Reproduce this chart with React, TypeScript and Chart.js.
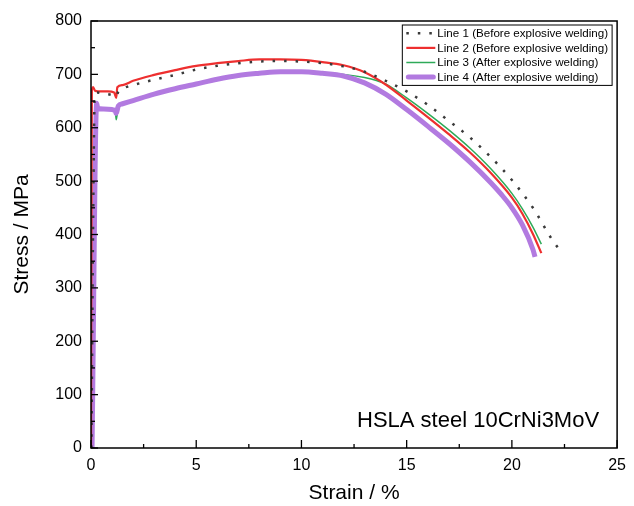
import React, { useEffect, useRef } from "react";
import { Chart, registerables } from "chart.js";

Chart.register(...registerables);

const FONT = "'Liberation Sans', Arial, sans-serif";

const labels = [
  "Line 1 (Before explosive welding)",
  "Line 2 (Before explosive welding)",
  "Line 3 (After explosive welding)",
  "Line 4 (After explosive welding)",
];

const strain1 = [0.02, 0.1, 0.18, 0.3, 0.6, 1.0, 1.2, 1.3, 1.6, 2, 3, 4, 5, 6, 7, 8, 9, 10, 11, 12, 13, 14, 15, 16, 17, 18, 19, 20, 21, 22, 22.2];
const stress1 = [0, 420, 662, 666, 664, 661, 658, 668, 675, 680, 690, 699, 709, 716, 721, 724, 725, 724, 721, 715, 705, 688, 668, 643, 613, 582, 545, 502, 450, 385, 375];

const strain2 = [0, 0.04, 0.1, 0.2, 0.5, 0.8, 1.1, 1.2, 1.25, 1.5, 2, 3, 4, 5, 6, 7, 8, 9, 10, 11, 12, 13, 14, 15, 16, 17, 18, 19, 20, 20.5, 21, 21.4];
const stress2 = [0, 670, 676, 669, 668, 668, 666, 656, 676, 680, 688, 699, 708, 716, 721, 725, 728, 728, 727, 723, 717, 704, 681, 651, 620, 588, 554, 515, 469, 439, 401, 365];

const strain3 = [0.05, 0.27, 0.32, 0.6, 1.0, 1.15, 1.2, 1.3, 1.5, 2, 3, 4, 5, 6, 7, 8, 9, 10, 11, 12, 13, 13.6, 14, 15, 16, 17, 18, 19, 20, 20.5, 21, 21.4];
const stress3 = [0, 643, 636, 635, 634, 632, 615, 640, 645, 651, 663, 673, 682, 691, 698, 702, 705, 705, 703, 700, 694, 688, 682, 656, 627, 596, 562, 523, 477, 448, 414, 382];

const strain4 = [0.05, 0.27, 0.32, 0.6, 1.0, 1.15, 1.2, 1.3, 1.5, 2, 3, 4, 5, 6, 7, 8, 9, 10, 11, 12, 13, 14, 15, 16, 17, 18, 19, 19.5, 20, 20.5, 21, 21.1];
const stress4 = [0, 646, 636, 635, 634, 632, 627, 641, 645, 651, 663, 673, 682, 691, 698, 702, 705, 705, 702, 697, 684, 663, 634, 603, 571, 536, 497, 475, 450, 418, 372, 358];

const xTicks = [0, 5, 10, 15, 20, 25];
const yTicks = [0, 100, 200, 300, 400, 500, 600, 700, 800];

const annotationText = "HSLA steel 10CrNi3MoV";

const toPts = (xs: number[], ys: number[]) => xs.map((x, i) => ({ x, y: ys[i] }));

const styles = [
  { color: "#3a3a3a", width: 2.5, dash: [2.5, 9] as number[] },
  { color: "#ee2f2f", width: 2.2, dash: [] as number[] },
  { color: "#2eaa58", width: 1.5, dash: [] as number[] },
  { color: "#b27ae0", width: 5, dash: [] as number[] },
];

const framePlugin = {
  id: "framePlugin",
  afterDatasetsDraw(chart: any) {
    const { ctx, chartArea } = chart;
    const xs = chart.scales.x;
    const ys = chart.scales.y;
    const { left, right, top, bottom } = chartArea;
    ctx.save();
    ctx.strokeStyle = "#000";
    ctx.lineWidth = 1.5;
    ctx.setLineDash([]);
    ctx.strokeRect(left, top, right - left, bottom - top);
    ctx.lineWidth = 1.3;
    for (let v = 0; v <= 25.001; v += 2.5) {
      const px = xs.getPixelForValue(v);
      const major = Math.abs(v % 5) < 1e-6;
      const len = major ? 8 : 4;
      ctx.beginPath();
      ctx.moveTo(px, bottom);
      ctx.lineTo(px, bottom - len);
      ctx.stroke();
    }
    for (let v = 0; v <= 800.001; v += 50) {
      const py = ys.getPixelForValue(v);
      const major = v % 100 === 0;
      const len = major ? 7 : 4;
      ctx.beginPath();
      ctx.moveTo(left, py);
      ctx.lineTo(left + len, py);
      ctx.stroke();
    }
    ctx.fillStyle = "#000";
    ctx.font = `22px ${FONT}`;
    ctx.textAlign = "right";
    ctx.textBaseline = "alphabetic";
    ctx.fillText(annotationText, right - 18, bottom - 21);
    ctx.font = `11.6px ${FONT}`;
    ctx.textAlign = "left";
    ctx.textBaseline = "middle";
    let maxW = 0;
    labels.forEach((l) => {
      maxW = Math.max(maxW, ctx.measureText(l).width);
    });
    const boxW = maxW + 35 + 4;
    const boxR = right - 5;
    const boxL = boxR - boxW;
    const boxT = top + 4;
    const rowH = 14.6;
    const boxH = rowH * 4 + 2;
    ctx.fillStyle = "#fff";
    ctx.fillRect(boxL, boxT, boxW, boxH);
    ctx.strokeStyle = "#000";
    ctx.lineWidth = 1;
    ctx.strokeRect(boxL, boxT, boxW, boxH);
    labels.forEach((l, i) => {
      const cy = boxT + 8.3 + i * rowH;
      const s = styles[i];
      ctx.save();
      ctx.strokeStyle = s.color;
      ctx.lineWidth = s.width;
      ctx.setLineDash(s.dash);
      ctx.lineCap = i === 3 ? "round" : "butt";
      ctx.beginPath();
      ctx.moveTo(boxL + 4 + (i === 3 ? 2 : 0), cy);
      ctx.lineTo(boxL + 33 - (i === 3 ? 2 : 0), cy);
      ctx.stroke();
      ctx.restore();
      ctx.fillStyle = "#000";
      ctx.fillText(l, boxL + 35, cy + 0.5);
    });
    ctx.restore();
  },
};

export default function App() {
  const ref = useRef<HTMLCanvasElement | null>(null);
  useEffect(() => {
    document.body.style.margin = "0";
    if (!ref.current) return;
    const series = [
      toPts(strain1, stress1),
      toPts(strain2, stress2),
      toPts(strain3, stress3),
      toPts(strain4, stress4),
    ];
    const orders = [1, 2, 4, 3];
    const chart = new Chart(ref.current, {
      type: "scatter",
      data: {
        datasets: series.map((d, i) => ({
          label: labels[i],
          data: d,
          showLine: true,
          borderColor: styles[i].color,
          backgroundColor: styles[i].color,
          borderWidth: styles[i].width,
          borderDash: styles[i].dash,
          pointRadius: 0,
          pointHoverRadius: 0,
          cubicInterpolationMode: "monotone",
          order: orders[i],
          fill: false,
        })),
      },
      options: {
        animation: false,
        responsive: true,
        maintainAspectRatio: false,
        layout: { padding: { left: 0, right: 12, top: 21, bottom: 0 } },
        plugins: {
          legend: { display: false },
          tooltip: { enabled: false },
        },
        scales: {
          x: {
            type: "linear",
            min: 0,
            max: 25,
            afterBuildTicks: (s: any) => {
              s.ticks = xTicks.map((v) => ({ value: v }));
            },
            afterFit: (s: any) => {
              s.height = 58;
            },
            grid: { display: false, drawTicks: false },
            border: { display: false },
            ticks: {
              color: "#000",
              font: { family: FONT, size: 16 },
              padding: 8,
              maxRotation: 0,
            },
            title: {
              display: true,
              text: "Strain / %",
              color: "#000",
              font: { family: FONT, size: 21 },
              padding: { top: 0, bottom: 0 },
            },
          },
          y: {
            type: "linear",
            min: 0,
            max: 800,
            afterBuildTicks: (s: any) => {
              s.ticks = yTicks.map((v) => ({ value: v }));
            },
            afterFit: (s: any) => {
              s.width = 91;
            },
            grid: { display: false, drawTicks: false },
            border: { display: false },
            ticks: {
              color: "#000",
              font: { family: FONT, size: 16 },
              padding: 9,
            },
            title: {
              display: true,
              text: "Stress / MPa",
              color: "#000",
              font: { family: FONT, size: 21 },
              padding: { top: 10, bottom: 0 },
            },
          },
        },
      },
      plugins: [framePlugin],
    });
    return () => chart.destroy();
  }, []);
  return (
    <div style={{ position: "absolute", left: 0, top: 0, width: 634, height: 506, background: "#fff" }}>
      <canvas ref={ref} />
    </div>
  );
}
